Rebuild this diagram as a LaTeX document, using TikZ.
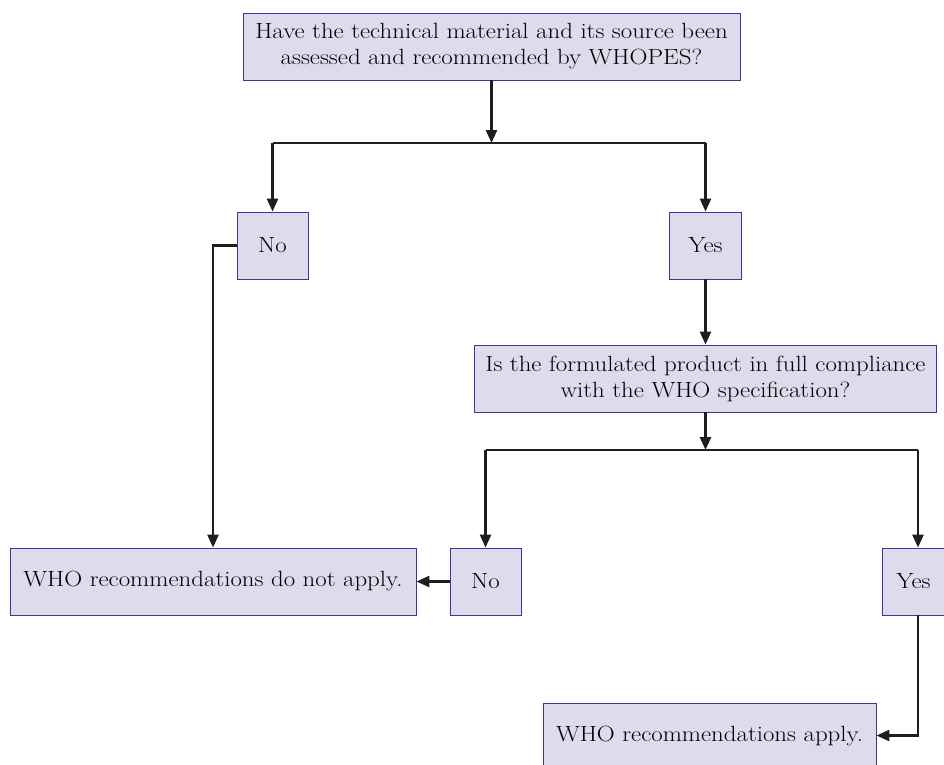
\documentclass[tikz,border=0pt]{standalone}
\usepackage{fontspec}
\setmainfont{Latin Modern Roman}[FakeStretch=1.13]
\usetikzlibrary{arrows.meta,calc}
\definecolor{boxfill}{RGB}{221,219,236}
\definecolor{boxline}{RGB}{62,54,150}
\definecolor{conn}{RGB}{30,30,30}
\begin{document}
\begin{tikzpicture}[x=1pt,y=-1pt,
  box/.style={draw=boxline,fill=boxfill,line width=0.9pt,minimum height=67pt,inner sep=0pt,align=center,font=\fontsize{22}{26}\selectfont},
  link/.style={draw=conn,line width=2.6pt},
  arr/.style={link,-{Triangle[length=13pt,width=11pt]}}]
\useasboundingbox (0,0) rectangle (944,764);
\node[box,minimum width=497pt] (top) at (491.5,46.5) {Have the technical material and its source been\\assessed and recommended by WHOPES?};
\node[box,minimum width=71pt] (no1) at (272.5,245.5) {No};
\node[box,minimum width=72pt] (yes1) at (705.5,245.5) {Yes};
\node[box,minimum width=462pt] (q2) at (705.5,378.5) {Is the formulated product in full compliance\\with the WHO specification?};
\node[box,minimum width=406pt] (dna) at (213,581.5) {WHO recommendations do not apply.};
\node[box,minimum width=71pt] (no2) at (485.5,581.5) {No};
\node[box,minimum width=63pt] (yes2) at (913.5,581.5) {Yes};
\node[box,minimum width=333pt] (app) at (709.5,736.5) {WHO recommendations apply.};
\coordinate (s1) at (491.5,143);
\coordinate (s1l) at (272.5,143);
\coordinate (s1r) at (705.5,143);
\coordinate (s2) at (705.5,450);
\coordinate (s2l) at (485.5,450);
\coordinate (s2r) at (918,450);
\coordinate (y2b) at (918,615);
\coordinate (y2c) at (918,735.5);
\draw[arr] (top.south) -- (s1);
\draw[link] (s1l) -- (s1r);
\draw[arr] (s1l) -- (no1.north);
\draw[arr] (s1r) -- (yes1.north);
\draw[arr] (no1.west) -| (dna.north);
\draw[arr] (yes1.south) -- (q2.north);
\draw[arr] (q2.south) -- (s2);
\draw[link] (s2l) -- (s2r);
\draw[arr] (s2l) -- (no2.north);
\draw[arr] (s2r) -- (s2r |- yes2.north);
\draw[arr] (no2.west) -- (dna.east);
\draw[arr] (y2b) -- (y2c) -- (app.east |- y2c);
\end{tikzpicture}
\end{document}
